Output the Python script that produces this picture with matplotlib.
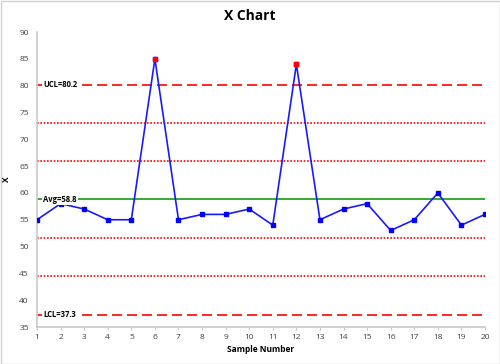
import matplotlib.pyplot as plt
import numpy as np

# chart data
samples = list(range(1, 21))
x_values = [55, 58, 57, 55, 55, 85, 55, 56, 56, 57, 54, 84, 55, 57, 58, 53, 55, 60, 54, 56]
ucl = 80.2
avg = 58.8
lcl = 37.3
y_ticks = [35, 40, 45, 50, 55, 60, 65, 70, 75, 80, 85, 90]


def main():
    plt.rcParams['font.family'] = ['Open Sans', 'DejaVu Sans']
    fig = plt.figure(figsize=(5.0, 3.64), dpi=100)
    ax = fig.add_axes([0.074, 0.1016, 0.896, 0.8104])

    sigma = (ucl - avg) / 3.0
    # zone lines
    for k in (1, 2):
        ax.axhline(avg + k * sigma, color='#ff0000', ls=(0, (1, 1)), lw=1.2)
        ax.axhline(avg - k * sigma, color='#ff0000', ls=(0, (1, 1)), lw=1.2)
    ax.axhline(ucl, color='#ff0000', ls=(0, (6, 3)), lw=1.2)
    ax.axhline(lcl, color='#ff0000', ls=(0, (6, 3)), lw=1.2)
    ax.axhline(avg, color='#129c12', lw=1.2)

    ax.plot(samples, x_values, color='#1a1aff', lw=1.2, marker='s', ms=3.5,
            mfc='#0000ff', mec='#0000ff', zorder=3)
    # out of control points
    out_x = [s for s, v in zip(samples, x_values) if v > ucl or v < lcl]
    out_y = [v for v in x_values if v > ucl or v < lcl]
    ax.plot(out_x, out_y, ls='none', marker='s', ms=3.5, mfc='#ff0000',
            mec='#ff0000', zorder=4)

    # limit labels
    for val, lbl in ((ucl, 'UCL=80.2'), (avg, 'Avg=58.8'), (lcl, 'LCL=37.3')):
        ax.text(1.27, val, lbl, fontsize=5.5, fontweight='bold', va='center',
                ha='left', zorder=5,
                bbox=dict(facecolor='white', edgecolor='none', pad=0.8))

    # axes
    ax.set_xlim(1, 20)
    ax.set_ylim(35, 90)
    ax.set_xticks(samples)
    ax.set_yticks(y_ticks)
    ax.tick_params(labelsize=6, colors='#404040', width=0.8)
    ax.tick_params(axis='x', length=2, pad=3)
    ax.tick_params(axis='y', length=0, pad=6)
    for side in ('top', 'right'):
        ax.spines[side].set_visible(False)
    for side in ('left', 'bottom'):
        ax.spines[side].set_color('#c8c8c8')
        ax.spines[side].set_linewidth(1.2)
    ax.tick_params(color='#c8c8c8')

    # labels
    ax.set_xlabel('Sample Number', fontsize=6, fontweight='bold', labelpad=3)
    ax.set_ylabel('X', fontsize=6, fontweight='bold', labelpad=6)
    fig.text(0.5, 0.955, 'X Chart', ha='center', va='center', fontsize=10,
             fontweight='bold')

    # figure border
    fig.patches.append(plt.Rectangle((0.001, 0.001), 0.998, 0.997,
                                     transform=fig.transFigure, fill=False,
                                     edgecolor='#d0d0d0', lw=1.0))
    fig.savefig('out.png', dpi=100)


if __name__ == "__main__":
    main()
